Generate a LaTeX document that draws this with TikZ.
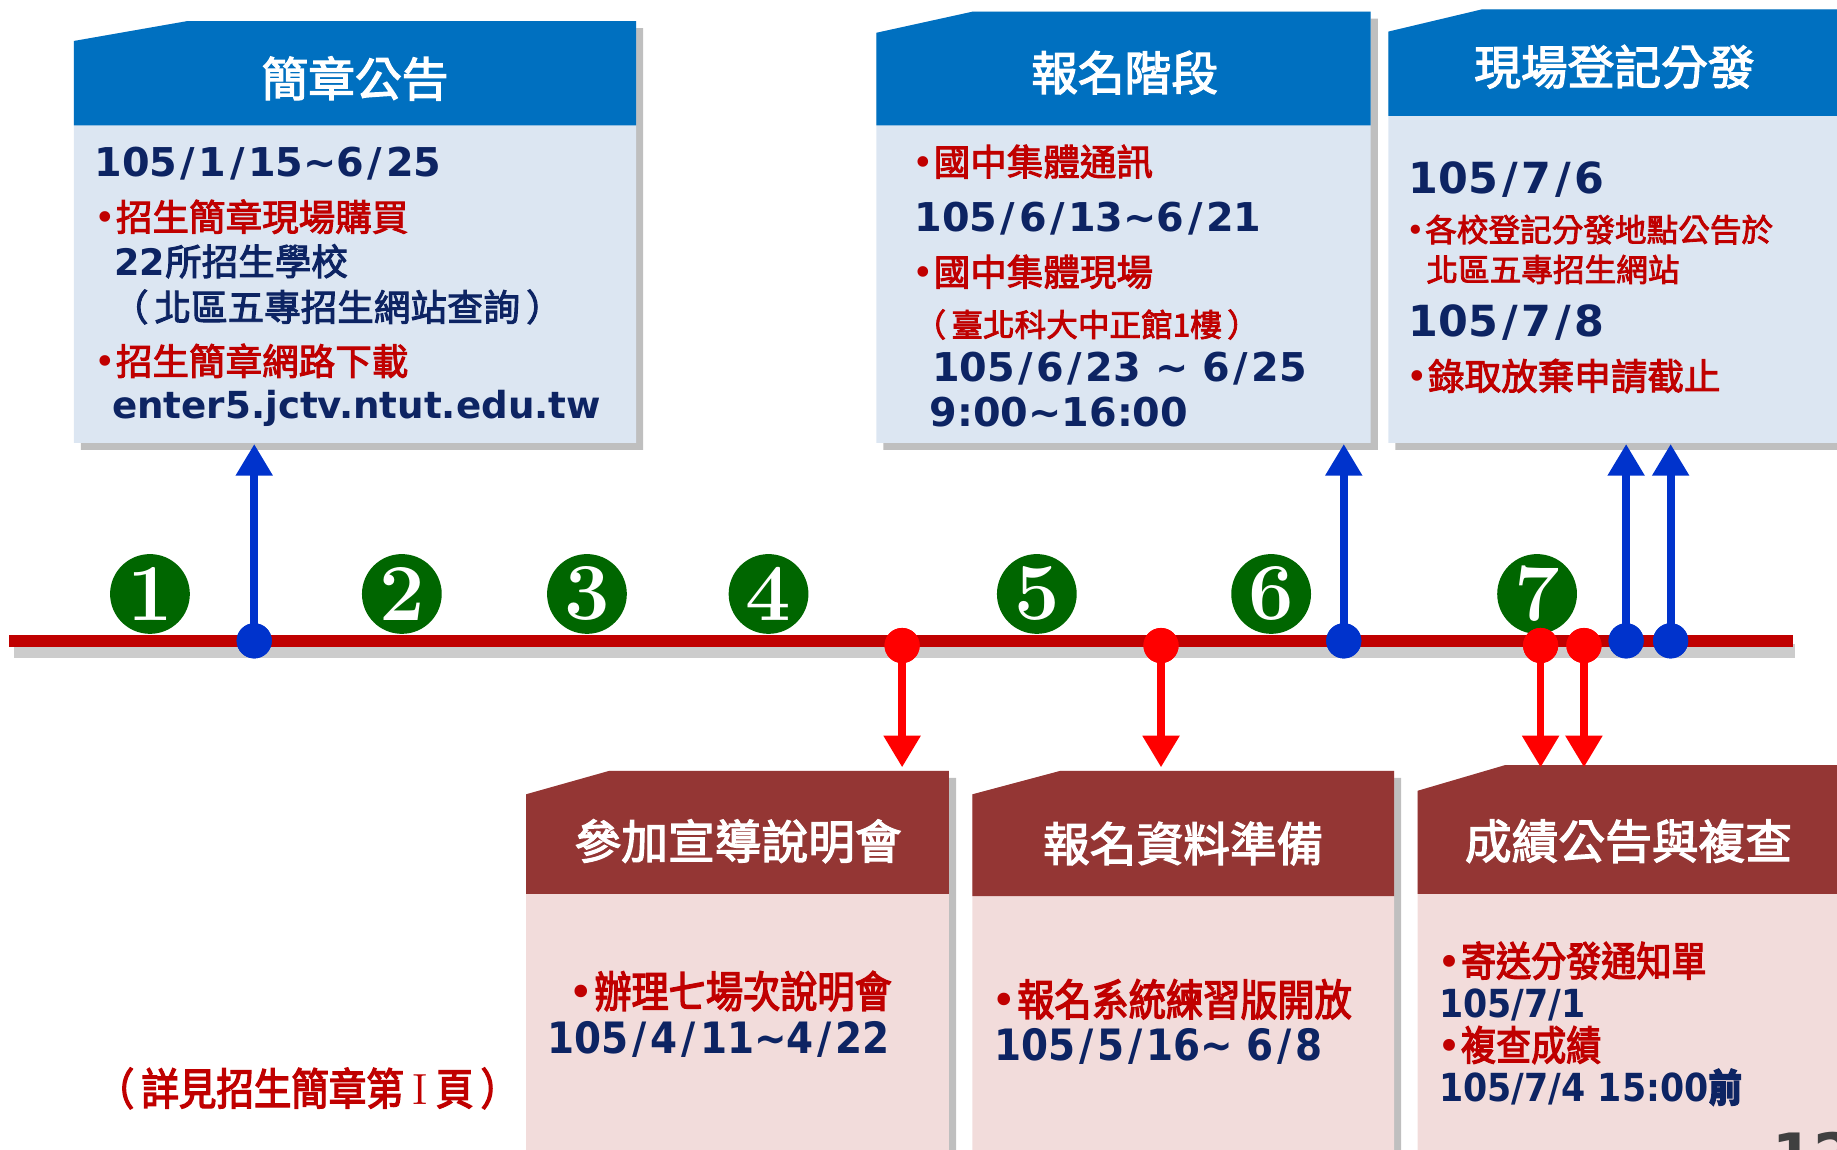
\documentclass[tikz,border=0pt]{standalone}
\usepackage{fontspec}
\usetikzlibrary{arrows.meta}
\newfontfamily\cjk{Noto Sans CJK TC}
\newfontfamily\cjkm[FakeBold=2.6]{Noto Sans CJK TC}
\newfontfamily\cjkn[FakeStretch=0.86,FakeBold=3]{Noto Sans CJK TC}
\newfontfamily\num{DejaVu Sans}
\newfontfamily\numc{DejaVu Sans Condensed}
\newcommand\til{\char"7E\relax}
\newcommand\sla{\kern.09em/\kern.09em}
\newcommand\bul{{\num •}}

\definecolor{headblue}{HTML}{0070C0}
\definecolor{bodyblue}{HTML}{DCE6F2}
\definecolor{headred}{HTML}{943634}
\definecolor{bodypink}{HTML}{F2DCDB}
\definecolor{navy}{HTML}{0D2463}
\definecolor{txtred}{HTML}{C00000}
\definecolor{arrblue}{HTML}{0033CC}
\definecolor{arrred}{HTML}{FF0000}
\definecolor{numgreen}{HTML}{006600}

% L R T corner slant head bottom headcolour bodycolour
\newcommand\phasebox[9]{%
  \fill[black!25] ({#1+6},{#4+6}) -- ({#5+6},{#3+6}) -- ({#2+6},{#3+6}) -- ({#2+6},{#7+6}) -- ({#1+6},{#7+6}) -- cycle;
  \fill[#9] (#1,#4) -- (#5,#3) -- (#2,#3) -- (#2,#7) -- (#1,#7) -- cycle;
  \fill[#8] (#1,#4) -- (#5,#3) -- (#2,#3) -- (#2,#6) -- (#1,#6) -- cycle;
}

\tikzset{
  headtxt/.style={text=white, font=\cjkm\fontsize{13.3}{15}\selectfont},
  redtxt/.style={anchor=west, inner sep=0pt, text=txtred, font=\cjkm\fontsize{10.4}{12}\selectfont},
  smalltxt/.style={anchor=west, inner sep=0pt, text=txtred, font=\cjkm\fontsize{9}{11}\selectfont},
  navytxt/.style={anchor=west, inner sep=0pt, text=navy, font=\cjkm\fontsize{10.4}{12}\selectfont},
  datetxt/.style={anchor=west, inner sep=0pt, text=navy, font=\num\bfseries\fontsize{11.3}{13}\selectfont},
  redlow/.style={anchor=west, inner sep=0pt, text=txtred, font=\cjkn\fontsize{12.3}{14}\selectfont},
  datelow/.style={anchor=west, inner sep=0pt, text=navy, font=\numc\bfseries\fontsize{12.3}{14}\selectfont},
  numcirc/.style={circle, fill=numgreen, text=white, inner sep=0pt, minimum size=22.7pt,
    font=\rmfamily\bfseries\fontsize{23}{23}\selectfont},
  bluedot/.style={circle, fill=arrblue, inner sep=0pt, minimum size=10pt},
  reddot/.style={circle, fill=arrred, inner sep=0pt, minimum size=10pt},
  uparr/.style={arrblue, line width=2.2pt, -{Triangle[width=10pt,length=9pt]}},
  downarr/.style={arrred, line width=2.2pt, -{Triangle[width=10pt,length=9pt]}}
}

\begin{document}
\begin{tikzpicture}[x=0.011716cm, y=-0.011716cm]
\useasboundingbox (0,0) rectangle (1568,981);

% upper boxes
\phasebox{63}{543}{18}{35}{160}{107}{378}{headblue}{bodyblue}
\phasebox{748}{1170}{10}{28}{830}{107}{378}{headblue}{bodyblue}
\phasebox{1185}{1590}{8}{27}{1265}{99}{378}{headblue}{bodyblue}
% lower boxes
\phasebox{449}{810}{658}{678}{520}{763}{1000}{headred}{bodypink}
\phasebox{830}{1190}{658}{678}{905}{765}{1000}{headred}{bodypink}
\phasebox{1210}{1590}{653}{675}{1285}{763}{1000}{headred}{bodypink}

\node[headtxt] (h1) at (303,67) {簡章公告};
\node[headtxt] (h2) at (960,62) {報名階段};
\node[headtxt] (h3) at (1378,57) {現場登記分發};
\node[headtxt] (h4) at (630,718) {參加宣導說明會};
\node[headtxt] (h5) at (1010,720) {報名資料準備};
\node[headtxt] (h6) at (1390,718) {成績公告與複查};

% box 1
\node[datetxt] (t11) at (80,140) {105\sla1\sla15\til6\sla25};
\node[redtxt] (t12) at (80,185) {\bul{}招生簡章現場購買};
\node[navytxt] (t13) at (97,223) {{\num\bfseries 22}所招生學校};
\node[navytxt] (t14) at (95,262) {（\,北區五專招生網站查詢\,）};
\node[redtxt] (t15) at (80,308) {\bul{}招生簡章網路下載};
\node[datetxt, font=\num\bfseries\fontsize{10.6}{13}\selectfont] (t16) at (95,349) {enter5.jctv.ntut.edu.tw};

% box 2
\node[redtxt] (t21) at (778,138) {\bul{}國中集體通訊};
\node[datetxt] (t22) at (780,187) {105\sla6\sla13\til6\sla21};
\node[redtxt] (t23) at (778,232) {\bul{}國中集體現場};
\node[smalltxt] (t24) at (780,277) {（\,臺北科大中正館1樓\,）};
\node[datetxt] (t25) at (795,315) {105\sla6\sla23 \til\ 6\sla25};
\node[datetxt] (t26) at (793,352) {9:00\til16:00};

% box 3
\node[datetxt, font=\num\bfseries\fontsize{12.2}{14}\selectfont] (t31) at (1202,153) {105\sla7\sla6};
\node[smalltxt] (t32) at (1200,196) {\bul{}各校登記分發地點公告於};
\node[smalltxt] (t33) at (1217,230) {北區五專招生網站};
\node[datetxt, font=\num\bfseries\fontsize{12.2}{14}\selectfont] (t34) at (1202,275) {105\sla7\sla8};
\node[redtxt] (t35) at (1200,321) {\bul{}錄取放棄申請截止};

% lower boxes
\node[redlow] (t41) at (485,846) {\bul{}辦理七場次說明會};
\node[datelow] (t42) at (467,887) {105\sla4\sla11\til4\sla22};
\node[redlow] (t51) at (846,853) {\bul{}報名系統練習版開放};
\node[datelow] (t52) at (848,893) {105\sla5\sla16\til\ 6\sla8};
\node[redlow, font=\cjkn\fontsize{11.6}{13}\selectfont] (t61) at (1226,820) {\bul{}寄送分發通知單};
\node[datelow, font=\numc\bfseries\fontsize{11}{13}\selectfont] (t62) at (1228,858) {105/7/1};
\node[redlow, font=\cjkn\fontsize{11.6}{13}\selectfont] (t63) at (1226,892) {\bul{}複查成績};
\node[datelow, font=\numc\bfseries\fontsize{11}{13}\selectfont] (t64) at (1228,928) {105/7/4 15:00{\cjkn 前}};

\node[redlow, font=\cjkn\fontsize{12.4}{14}\selectfont] (note) at (82,929) {（\,詳見招生簡章第 {\rmfamily\mdseries I} 頁\,）};
\node[anchor=north west, inner sep=0pt, text=black!75, font=\num\bfseries\fontsize{17}{17}\selectfont] (pg) at (1512,966) {12};

% timeline
\draw[black!20, line width=4pt] (12,556) -- (1532,556);
\draw[txtred, line width=3.3pt] (8,547) coordinate (ts) -- (1530,547) coordinate (te);

\foreach \i/\x in {1/128,2/343,3/501,4/656,5/885,6/1085,7/1312}
  \node[numcirc] (n\i) at (\x,507) {\i};

\foreach \i/\x in {1/217,2/1147,3/1388,4/1426} {
  \coordinate (bt\i) at (\x,379);
  \node[bluedot] (bd\i) at (\x,547) {};
  \draw[uparr] (bd\i.center) -- (bt\i);
  \node[bluedot] at (bd\i) {};
}
\foreach \i/\x in {1/770,2/991,3/1315,4/1352} {
  \coordinate (rt\i) at (\x,655);
  \node[reddot] (rd\i) at (\x,551) {};
  \draw[downarr] (rd\i.center) -- (rt\i);
  \node[reddot] at (rd\i) {};
}
\end{tikzpicture}
\end{document}
